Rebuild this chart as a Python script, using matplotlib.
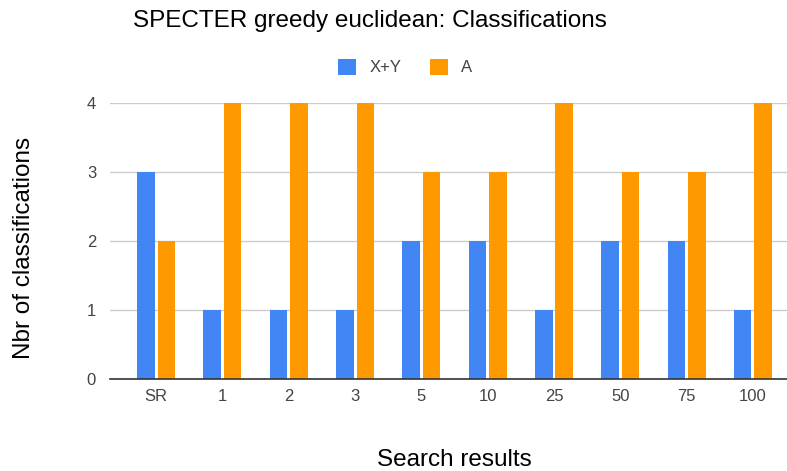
import numpy as np
from matplotlib import pyplot as plt

plt.rcParams['font.family'] = ['Liberation Sans', 'DejaVu Sans']

categories = ['SR', '1', '2', '3', '5', '10', '25', '50', '75', '100']
xy_values = [3, 1, 1, 1, 2, 2, 1, 2, 2, 1]
a_values = [2, 4, 4, 4, 3, 3, 4, 3, 3, 4]

fig = plt.figure(figsize=(7.87, 4.71), dpi=100)
ax = fig.add_axes([110 / 787, 1 - 379 / 471, 677 / 787, 276 / 471])

x = np.arange(len(categories))
w = 0.265
ax.bar(x - 0.155, xy_values, w, color='#4285f4', label='X+Y', zorder=3)
ax.bar(x + 0.155, a_values, w, color='#ff9900', label='A', zorder=3)

ax.set_xlim(-0.694, 9.513)
ax.set_ylim(0, 4)
ax.set_yticks([0, 1, 2, 3, 4])
ax.set_xticks(x)
ax.set_xticklabels(categories)
ax.yaxis.grid(True, color='#cccccc', linewidth=1, zorder=0)
ax.tick_params(length=0, labelsize=12, colors='#444444')
ax.tick_params(axis='x', pad=7)
ax.tick_params(axis='y', pad=10)
for s in ['top', 'right', 'left']:
    ax.spines[s].set_visible(False)
ax.spines['bottom'].set_color('#333333')
ax.spines['bottom'].set_linewidth(1.2)
ax.spines['bottom'].set_zorder(4)

fig.text(370 / 787, 1 - 21 / 471, 'SPECTER greedy euclidean: Classifications',
         ha='center', va='center', fontsize=17.5, color='#000000')
fig.text(454 / 787, 1 - 460 / 471, 'Search results', ha='center', va='center',
         fontsize=17.5, color='#000000')
fig.text(24 / 787, 1 - 248 / 471, 'Nbr of classifications', ha='center', va='center',
         rotation=90, fontsize=17.5, color='#000000')

fig.legend(loc='center', bbox_to_anchor=(405 / 787, 1 - 67 / 471), ncol=2, frameon=False,
           fontsize=12, handlelength=1.1, handleheight=1.1, handletextpad=0.8,
           columnspacing=1.7, labelcolor='#444444')

fig.savefig('out.png', dpi=100)
